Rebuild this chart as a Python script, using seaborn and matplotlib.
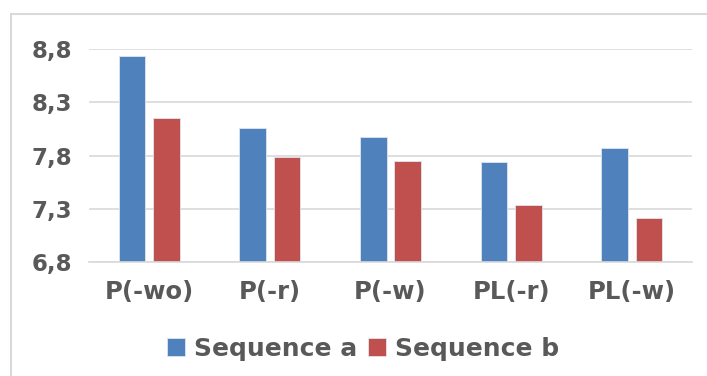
import matplotlib
matplotlib.use("Agg")
import matplotlib.pyplot as plt
import seaborn as sns
import pandas as pd
from matplotlib.patches import Rectangle

categories = ["P(-wo)", "P(-r)", "P(-w)", "PL(-r)", "PL(-w)"]
series_names = ["Sequence a", "Sequence b"]
seq_a = [8.73, 8.055, 7.97, 7.735, 7.875]
seq_b = [8.155, 7.79, 7.75, 7.335, 7.21]
yticks = [6.8, 7.3, 7.8, 8.3, 8.8]
ytick_labels = ["6,8", "7,3", "7,8", "8,3", "8,8"]
colors = ["#4F81BD", "#C0504D"]

df = pd.DataFrame({
    "cat": categories * 2,
    "val": seq_a + seq_b,
    "series": [series_names[0]] * len(categories) + [series_names[1]] * len(categories),
})

sns.set_theme(style="white")
plt.rcParams["font.family"] = ["DejaVu Sans"]
fig = plt.figure(figsize=(7.07, 3.76), dpi=100)
ax = fig.add_axes([89 / 707, 1 - 262 / 376, (692 - 89) / 707, (262 - 49) / 376])

sns.barplot(data=df, x="cat", y="val", hue="series", palette=colors, ax=ax,
            width=0.57, gap=0.23, edgecolor="#dfe6f0", linewidth=0.6,
            saturation=1, legend=True)

ax.set_ylim(6.8, 8.8)
ax.set_xlim(-0.5, len(categories) - 0.5)
ax.set_yticks(yticks)
ax.set_yticklabels(ytick_labels)
ax.yaxis.grid(True, color="#d9d9d9", linewidth=1.2)
ax.set_axisbelow(True)
for s in ax.spines.values():
    s.set_visible(False)
ax.spines["bottom"].set_visible(True)
ax.spines["bottom"].set_color("#d9d9d9")
ax.spines["bottom"].set_linewidth(1.2)
ax.set_xlabel("")
ax.set_ylabel("")
ax.tick_params(axis="y", length=0, pad=12, labelsize=16.5, labelcolor="#595959")
ax.tick_params(axis="x", length=0, pad=13, labelsize=17.5, labelcolor="#595959")
for t in ax.get_xticklabels() + ax.get_yticklabels():
    t.set_fontweight("bold")

ax.legend_.remove()
handles, labels = ax.get_legend_handles_labels()
leg = fig.legend(handles, labels, loc="center", bbox_to_anchor=(363 / 707, 1 - 349 / 376),
                 ncol=2, frameon=False, handlelength=0.72, handleheight=0.72,
                 handletextpad=0.35, columnspacing=0.45,
                 prop={"weight": "bold", "size": 18})
for t in leg.get_texts():
    t.set_color("#595959")

fig.patches.append(Rectangle((11 / 707, -0.1), 1.0, 1 - 14 / 376 + 0.1,
                             transform=fig.transFigure, fill=False,
                             edgecolor="#d9d9d9", linewidth=1.5, zorder=-1))

fig.savefig("out.png", dpi=100, facecolor="white")
